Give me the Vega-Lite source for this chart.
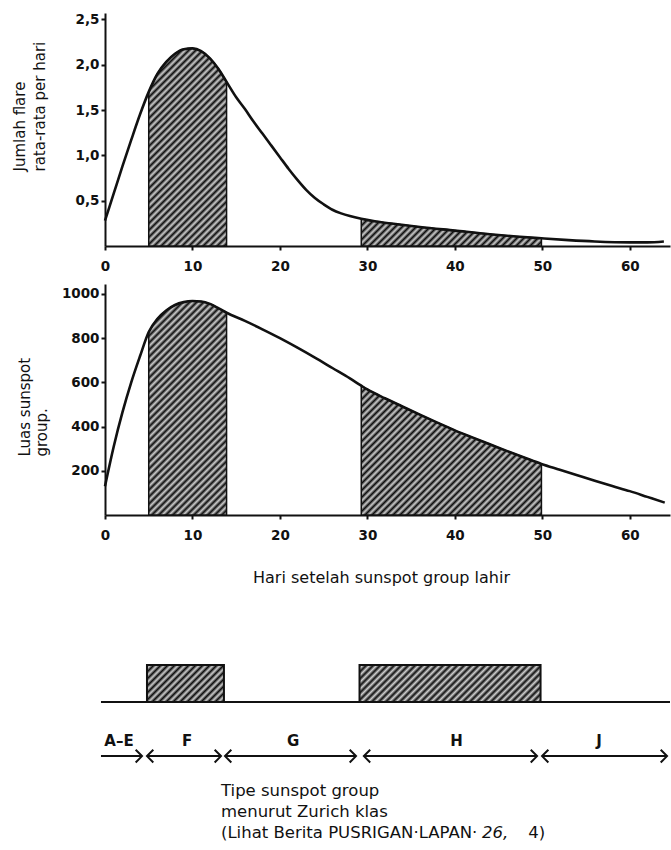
{
 "$schema": "https://vega.github.io/schema/vega-lite/v6.json",
 "padding": {"left": 12, "top": 12, "right": 0, "bottom": 0},
 "params": [{"name": "stops", "value": [{"offset":0,"color":"#0d0d0d"},{"offset":0.0114,"color":"#d0d0d0"},{"offset":0.0227,"color":"#0d0d0d"},{"offset":0.0341,"color":"#d0d0d0"},{"offset":0.0455,"color":"#0d0d0d"},{"offset":0.0568,"color":"#d0d0d0"},{"offset":0.0682,"color":"#0d0d0d"},{"offset":0.0795,"color":"#d0d0d0"},{"offset":0.0909,"color":"#0d0d0d"},{"offset":0.1023,"color":"#d0d0d0"},{"offset":0.1136,"color":"#0d0d0d"},{"offset":0.125,"color":"#d0d0d0"},{"offset":0.1364,"color":"#0d0d0d"},{"offset":0.1477,"color":"#d0d0d0"},{"offset":0.1591,"color":"#0d0d0d"},{"offset":0.1705,"color":"#d0d0d0"},{"offset":0.1818,"color":"#0d0d0d"},{"offset":0.1932,"color":"#d0d0d0"},{"offset":0.2045,"color":"#0d0d0d"},{"offset":0.2159,"color":"#d0d0d0"},{"offset":0.2273,"color":"#0d0d0d"},{"offset":0.2386,"color":"#d0d0d0"},{"offset":0.25,"color":"#0d0d0d"},{"offset":0.2614,"color":"#d0d0d0"},{"offset":0.2727,"color":"#0d0d0d"},{"offset":0.2841,"color":"#d0d0d0"},{"offset":0.2955,"color":"#0d0d0d"},{"offset":0.3068,"color":"#d0d0d0"},{"offset":0.3182,"color":"#0d0d0d"},{"offset":0.3295,"color":"#d0d0d0"},{"offset":0.3409,"color":"#0d0d0d"},{"offset":0.3523,"color":"#d0d0d0"},{"offset":0.3636,"color":"#0d0d0d"},{"offset":0.375,"color":"#d0d0d0"},{"offset":0.3864,"color":"#0d0d0d"},{"offset":0.3977,"color":"#d0d0d0"},{"offset":0.4091,"color":"#0d0d0d"},{"offset":0.4205,"color":"#d0d0d0"},{"offset":0.4318,"color":"#0d0d0d"},{"offset":0.4432,"color":"#d0d0d0"},{"offset":0.4545,"color":"#0d0d0d"},{"offset":0.4659,"color":"#d0d0d0"},{"offset":0.4773,"color":"#0d0d0d"},{"offset":0.4886,"color":"#d0d0d0"},{"offset":0.5,"color":"#0d0d0d"},{"offset":0.5114,"color":"#d0d0d0"},{"offset":0.5227,"color":"#0d0d0d"},{"offset":0.5341,"color":"#d0d0d0"},{"offset":0.5455,"color":"#0d0d0d"},{"offset":0.5568,"color":"#d0d0d0"},{"offset":0.5682,"color":"#0d0d0d"},{"offset":0.5795,"color":"#d0d0d0"},{"offset":0.5909,"color":"#0d0d0d"},{"offset":0.6023,"color":"#d0d0d0"},{"offset":0.6136,"color":"#0d0d0d"},{"offset":0.625,"color":"#d0d0d0"},{"offset":0.6364,"color":"#0d0d0d"},{"offset":0.6477,"color":"#d0d0d0"},{"offset":0.6591,"color":"#0d0d0d"},{"offset":0.6705,"color":"#d0d0d0"},{"offset":0.6818,"color":"#0d0d0d"},{"offset":0.6932,"color":"#d0d0d0"},{"offset":0.7045,"color":"#0d0d0d"},{"offset":0.7159,"color":"#d0d0d0"},{"offset":0.7273,"color":"#0d0d0d"},{"offset":0.7386,"color":"#d0d0d0"},{"offset":0.75,"color":"#0d0d0d"},{"offset":0.7614,"color":"#d0d0d0"},{"offset":0.7727,"color":"#0d0d0d"},{"offset":0.7841,"color":"#d0d0d0"},{"offset":0.7955,"color":"#0d0d0d"},{"offset":0.8068,"color":"#d0d0d0"},{"offset":0.8182,"color":"#0d0d0d"},{"offset":0.8295,"color":"#d0d0d0"},{"offset":0.8409,"color":"#0d0d0d"},{"offset":0.8523,"color":"#d0d0d0"},{"offset":0.8636,"color":"#0d0d0d"},{"offset":0.875,"color":"#d0d0d0"},{"offset":0.8864,"color":"#0d0d0d"},{"offset":0.8977,"color":"#d0d0d0"},{"offset":0.9091,"color":"#0d0d0d"},{"offset":0.9205,"color":"#d0d0d0"},{"offset":0.9318,"color":"#0d0d0d"},{"offset":0.9432,"color":"#d0d0d0"},{"offset":0.9545,"color":"#0d0d0d"},{"offset":0.9659,"color":"#d0d0d0"},{"offset":0.9773,"color":"#0d0d0d"},{"offset":0.9886,"color":"#d0d0d0"},{"offset":1,"color":"#0d0d0d"}]}],
 "datasets": {
  "flare": [
   {"d":0,"v":0.28},{"d":1,"v":0.58},{"d":2,"v":0.88},{"d":3,"v":1.17},{"d":4,"v":1.45},{"d":5,"v":1.7},{"d":6,"v":1.9},{"d":7,"v":2.03},{"d":8,"v":2.12},{"d":9,"v":2.17},{"d":10,"v":2.18},{"d":11,"v":2.15},{"d":12,"v":2.07},{"d":13,"v":1.95},{"d":13.9,"v":1.81},{"d":15,"v":1.64},{"d":16,"v":1.51},{"d":17,"v":1.37},{"d":18,"v":1.24},{"d":19,"v":1.11},{"d":20,"v":0.98},{"d":21,"v":0.85},{"d":22,"v":0.73},{"d":23,"v":0.62},{"d":24,"v":0.53},{"d":25,"v":0.46},{"d":26,"v":0.4},{"d":27,"v":0.36},{"d":28,"v":0.33},{"d":29.3,"v":0.3},{"d":31,"v":0.27},{"d":33,"v":0.245},{"d":36,"v":0.21},{"d":40,"v":0.17},{"d":44,"v":0.13},{"d":47,"v":0.105},{"d":49.9,"v":0.085},{"d":53,"v":0.065},{"d":56,"v":0.05},{"d":60,"v":0.04},{"d":62,"v":0.04},{"d":63.9,"v":0.05}
  ],
  "area": [
   {"d":0,"a":130},{"d":1,"a":310},{"d":2,"a":465},{"d":3,"a":600},{"d":4,"a":718},{"d":5,"a":828},{"d":6,"a":888},{"d":7,"a":925},{"d":8,"a":950},{"d":9,"a":963},{"d":10,"a":968},{"d":11,"a":966},{"d":12,"a":955},{"d":13,"a":935},{"d":13.9,"a":915},{"d":16,"a":878},{"d":18,"a":840},{"d":20,"a":800},{"d":22,"a":757},{"d":24,"a":712},{"d":26,"a":665},{"d":28,"a":618},{"d":29.3,"a":585},{"d":30,"a":568},{"d":32,"a":528},{"d":34,"a":491},{"d":36,"a":454},{"d":38,"a":418},{"d":40,"a":383},{"d":42,"a":351},{"d":44,"a":320},{"d":46,"a":289},{"d":48,"a":259},{"d":49.9,"a":231},{"d":52,"a":205},{"d":54,"a":180},{"d":56,"a":155},{"d":58,"a":131},{"d":60,"a":108},{"d":62,"a":82},{"d":64,"a":56}
  ],
  "zones": [
   {"z":"A–E","s":-0.46,"e":4.23,"m":1.6,"lh":false},
   {"z":"F","s":4.8,"e":13.26,"m":9.4,"lh":true},
   {"z":"G","s":13.72,"e":28.7,"m":21.5,"lh":true},
   {"z":"H","s":29.6,"e":49.4,"m":40.2,"lh":true},
   {"z":"J","s":49.97,"e":64.26,"m":56.5,"lh":true}
  ],
  "boxes": [
   {"k":"F","s":4.8,"e":13.6},
   {"k":"H","s":29.1,"e":49.8}
  ]
 },
 "config": {
  "view": {"stroke": null},
  "font": "DejaVu Sans",
  "axis": {"domainColor": "#111", "domainWidth": 2, "tickColor": "#111", "tickWidth": 2, "tickSize": 4, "labelColor": "#111", "labelFont": "DejaVu Sans", "labelFontWeight": "bold", "labelFontSize": 13.5, "grid": false, "titleColor": "#111", "titleFont": "DejaVu Sans", "titleFontWeight": "normal", "titleFontSize": 15}
 },
 "bounds": "flush",
 "spacing": 38,
 "vconcat": [
  {
   "width": 565, "height": 233,
   "data": {"name": "flare"},
   "encoding": {
    "x": {"field": "d", "type": "quantitative", "scale": {"domain": [0, 64.6], "nice": false, "zero": false}, "axis": {"values": [0,10,20,30,40,50,60], "labelPadding": 9, "title": null, "labelFlush": false}},
    "y": {"field": "v", "type": "quantitative", "scale": {"domain": [0, 2.57], "nice": false}, "axis": {"values": [0.5,1,1.5,2,2.5], "labelExpr": "replace(format(datum.value, '.1f'), '.', ',')", "labelPadding": 2, "title": ["Jumlah flare", "rata-rata per hari"], "titleX": -86, "titleY": 158, "titleAngle": 270, "titleAlign": "left", "titleBaseline": "middle", "titleLineHeight": 20}}
   },
   "layer": [
    {"transform": [{"filter": "datum.d >= 5 && datum.d <= 13.9"}], "mark": {"type": "area", "interpolate": "monotone", "fill": {"expr": "{gradient: 'linear', x1: 0, y1: 0, x2: 0.5313, y2: 1.3495, stops: stops}"}, "stroke": "#111", "strokeWidth": 1.5}},
    {"transform": [{"filter": "datum.d >= 29.3 && datum.d <= 49.9"}], "mark": {"type": "area", "interpolate": "monotone", "fill": {"expr": "{gradient: 'linear', x1: 0, y1: 0, x2: 1.6711, y2: 0.2523, stops: stops}"}, "stroke": "#111", "strokeWidth": 1.5}},
    {"mark": {"type": "line", "interpolate": "monotone", "color": "#111", "strokeWidth": 2.6}}
   ]
  },
  {
   "width": 565, "height": 231,
   "data": {"name": "area"},
   "encoding": {
    "x": {"field": "d", "type": "quantitative", "scale": {"domain": [0, 64.6], "nice": false, "zero": false}, "axis": {"values": [0,10,20,30,40,50,60], "labelPadding": 9, "title": "Hari setelah sunspot group lahir", "titleFontSize": 16, "titleX": 276, "titleY": 62, "titleAlign": "center", "titleBaseline": "middle", "labelFlush": false}},
    "y": {"field": "a", "type": "quantitative", "scale": {"domain": [0, 1045], "nice": false}, "axis": {"values": [200,400,600,800,1000], "format": "d", "labelPadding": 2, "title": ["Luas sunspot", "group."], "titleX": -81, "titleY": 172, "titleAngle": 270, "titleAlign": "left", "titleBaseline": "middle", "titleLineHeight": 17}}
   },
   "layer": [
    {"transform": [{"filter": "datum.d >= 5 && datum.d <= 13.9"}], "mark": {"type": "area", "interpolate": "monotone", "fill": {"expr": "{gradient: 'linear', x1: 0, y1: 0, x2: 0.4622, y2: 1.2712, stops: stops}"}, "stroke": "#111", "strokeWidth": 1.5}},
    {"transform": [{"filter": "datum.d >= 29.3 && datum.d <= 49.9"}], "mark": {"type": "area", "interpolate": "monotone", "fill": {"expr": "{gradient: 'linear', x1: 0, y1: 0, x2: 1.1283, y2: 0.8096, stops: stops}"}, "stroke": "#111", "strokeWidth": 1.5}},
    {"mark": {"type": "line", "interpolate": "monotone", "color": "#111", "strokeWidth": 2.6}}
   ]
  },
  {
   "width": 565, "height": 293,
   "layer": [
    {"data": {"values": [{"from": -0.46, "to": 64.6}]}, "mark": {"type": "rule", "color": "#111", "strokeWidth": 2},
     "encoding": {"x": {"field": "from", "type": "quantitative", "scale": {"domain": [0, 64.6], "nice": false, "zero": false}, "axis": null}, "x2": {"field": "to"}, "y": {"datum": 0, "type": "quantitative", "scale": {"domain": [-3.89, 4.03], "nice": false}, "axis": null}}},
    {"data": {"name": "boxes"}, "transform": [{"filter": "datum.k == 'F'"}], "mark": {"type": "rect", "fill": {"expr": "{gradient: 'linear', x1: 0, y1: 0, x2: 3.2497, y2: 1.5615, stops: stops}"}, "stroke": "#111", "strokeWidth": 2},
     "encoding": {"x": {"field": "s", "type": "quantitative", "scale": {"domain": [0, 64.6], "nice": false, "zero": false}, "axis": null}, "x2": {"field": "e"}, "y": {"datum": 0, "type": "quantitative", "scale": {"domain": [-3.89, 4.03], "nice": false}, "axis": null}, "y2": {"datum": 1}}},
    {"data": {"name": "boxes"}, "transform": [{"filter": "datum.k == 'H'"}], "mark": {"type": "rect", "fill": {"expr": "{gradient: 'linear', x1: 0, y1: 0, x2: 1.6334, y2: 0.3339, stops: stops}"}, "stroke": "#111", "strokeWidth": 2},
     "encoding": {"x": {"field": "s", "type": "quantitative", "scale": {"domain": [0, 64.6], "nice": false, "zero": false}, "axis": null}, "x2": {"field": "e"}, "y": {"datum": 0, "type": "quantitative", "scale": {"domain": [-3.89, 4.03], "nice": false}, "axis": null}, "y2": {"datum": 1}}},
    {"data": {"name": "zones"}, "mark": {"type": "rule", "color": "#111", "strokeWidth": 2},
     "encoding": {"x": {"field": "s", "type": "quantitative", "scale": {"domain": [0, 64.6], "nice": false, "zero": false}, "axis": null}, "x2": {"field": "e"}, "y": {"datum": -1.46, "type": "quantitative", "scale": {"domain": [-3.89, 4.03], "nice": false}, "axis": null}}},
    {"data": {"name": "zones"}, "mark": {"type": "point", "shape": "M-1,-1L0,0L-1,1", "filled": false, "stroke": "#111", "strokeWidth": 2, "size": 160, "opacity": 1},
     "encoding": {"x": {"field": "e", "type": "quantitative", "scale": {"domain": [0, 64.6], "nice": false, "zero": false}, "axis": null}, "y": {"datum": -1.46, "type": "quantitative", "scale": {"domain": [-3.89, 4.03], "nice": false}, "axis": null}}},
    {"data": {"name": "zones"}, "transform": [{"filter": "datum.lh"}], "mark": {"type": "point", "shape": "M1,-1L0,0L1,1", "filled": false, "stroke": "#111", "strokeWidth": 2, "size": 160, "opacity": 1},
     "encoding": {"x": {"field": "s", "type": "quantitative", "scale": {"domain": [0, 64.6], "nice": false, "zero": false}, "axis": null}, "y": {"datum": -1.46, "type": "quantitative", "scale": {"domain": [-3.89, 4.03], "nice": false}, "axis": null}}},
    {"data": {"name": "zones"}, "mark": {"type": "text", "font": "DejaVu Sans", "fontSize": 15, "fontWeight": "bold", "color": "#111", "align": "center", "baseline": "middle"},
     "encoding": {"x": {"field": "m", "type": "quantitative", "scale": {"domain": [0, 64.6], "nice": false, "zero": false}, "axis": null}, "y": {"datum": -1.05, "type": "quantitative", "scale": {"domain": [-3.89, 4.03], "nice": false}, "axis": null}, "text": {"field": "z"}}},
    {"data": {"values": [{"src": "note"}]}, "mark": {"type": "text", "text": ["Tipe sunspot group", "menurut Zurich klas", "(Lihat Berita PUSRIGAN·LAPAN·"], "font": "DejaVu Sans", "fontSize": 16.5, "lineHeight": 21, "color": "#111", "align": "left", "baseline": "middle"},
     "encoding": {"x": {"datum": 13.26, "type": "quantitative", "scale": {"domain": [0, 64.6], "nice": false, "zero": false}, "axis": null}, "y": {"datum": -2.41, "type": "quantitative", "scale": {"domain": [-3.89, 4.03], "nice": false}, "axis": null}}},
    {"data": {"values": [{"src": "note"}]}, "mark": {"type": "text", "text": "26,", "font": "DejaVu Sans", "fontSize": 16.5, "fontStyle": "italic", "color": "#111", "align": "left", "baseline": "middle"},
     "encoding": {"x": {"datum": 43.1, "type": "quantitative", "scale": {"domain": [0, 64.6], "nice": false, "zero": false}, "axis": null}, "y": {"datum": -3.54, "type": "quantitative", "scale": {"domain": [-3.89, 4.03], "nice": false}, "axis": null}}},
    {"data": {"values": [{"src": "note"}]}, "mark": {"type": "text", "text": "4)", "font": "DejaVu Sans", "fontSize": 16.5, "color": "#111", "align": "left", "baseline": "middle"},
     "encoding": {"x": {"datum": 48.4, "type": "quantitative", "scale": {"domain": [0, 64.6], "nice": false, "zero": false}, "axis": null}, "y": {"datum": -3.54, "type": "quantitative", "scale": {"domain": [-3.89, 4.03], "nice": false}, "axis": null}}}
   ]
  }
 ]
}
